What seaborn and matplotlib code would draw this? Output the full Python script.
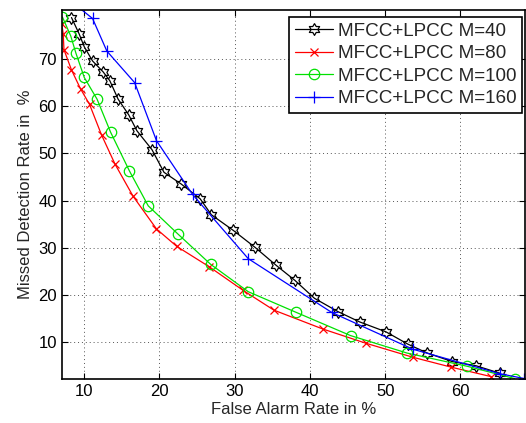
#!/usr/bin/env python3
# DET curves: MFCC+LPCC fusion with different mixture counts M

import numpy as np
import pandas as pd
import matplotlib
matplotlib.use('Agg')
import matplotlib.pyplot as plt
import seaborn as sns

################
# Data

fa_m40 = [8.3, 9.3, 10.0, 11.1, 12.5, 13.4, 14.5, 15.9, 17.0, 19.0, 20.6, 22.9, 25.4,
          26.9, 29.8, 32.7, 35.5, 38.0, 40.6, 43.7, 46.6, 50.1, 53.0, 55.6, 58.9, 62.1, 65.3]
md_m40 = [78.8, 75.4, 72.6, 69.6, 67.3, 65.4, 61.5, 58.2, 54.8, 50.8, 46.0, 43.5, 40.4,
          37.0, 33.7, 30.1, 26.3, 23.1, 19.3, 16.5, 14.3, 12.2, 9.6, 7.7, 5.9, 5.0, 3.4]

fa_m80 = [7.0, 7.2, 7.3, 8.3, 9.5, 10.7, 12.3, 14.1, 16.5, 19.6, 22.3, 26.6, 31.1,
          35.2, 41.7, 47.4, 53.7, 58.8, 64.1]
md_m80 = [77.5, 75.4, 72.0, 67.7, 63.7, 60.4, 53.9, 47.7, 40.9, 34.0, 30.3, 26.0, 21.0,
          16.8, 12.8, 9.8, 6.8, 4.7, 2.7]

fa_m100 = [7.1, 8.2, 8.9, 10.0, 11.7, 13.5, 16.0, 18.5, 22.4, 26.8, 31.8, 38.2, 45.4,
           52.9, 60.9, 67.2]
md_m100 = [78.9, 74.9, 71.2, 66.1, 61.5, 54.5, 46.3, 38.9, 33.0, 26.5, 20.7, 16.3, 11.4,
           7.7, 4.9, 2.3]

fa_m160 = [7.5, 11.1, 13.0, 16.7, 19.6, 24.4, 31.8, 42.9, 53.7, 65.3, 68.5]
md_m160 = [83.2, 78.6, 71.7, 65.0, 52.7, 41.3, 27.7, 16.3, 8.5, 3.3, 2.3]

labels = ['MFCC+LPCC M=40', 'MFCC+LPCC M=80', 'MFCC+LPCC M=100', 'MFCC+LPCC M=160']

################
# Style

sns.set_style('ticks')
plt.rcParams['font.family'] = ['Liberation Sans', 'DejaVu Sans']
plt.rcParams['font.size'] = 12

# six-pointed star (hexagram) marker
ang = np.pi / 2 + np.arange(12) * np.pi / 6
rad = np.where(np.arange(12) % 2 == 0, 1.0, 1.0 / np.sqrt(3))
hexagram = list(zip(rad * np.cos(ang), rad * np.sin(ang)))
hexagram.append(hexagram[0])

series = [
  (fa_m40, md_m40, 'black', hexagram, 8.5),
  (fa_m80, md_m80, 'red', 'x', 6),
  (fa_m100, md_m100, '#00e000', 'o', 7.5),
  (fa_m160, md_m160, 'blue', '+', 8.5),
]

fig = plt.figure(figsize=(5.26, 4.23), dpi=100)
ax = fig.add_axes([0.1173, 0.104, 0.881, 0.8735])

for (fa, md, col, mk, ms), lab in zip(series, labels):
  df = pd.DataFrame({'fa': fa, 'md': md})
  sns.lineplot(data=df, x='fa', y='md', ax=ax, color=col, marker=mk, markersize=ms,
               mfc='none', mec=col, mew=0.9, linewidth=0.9, sort=False,
               estimator=None, label=lab, clip_on=True)

ax.set_xlim(7, 68.6)
ax.set_ylim(2.2, 80.5)
ax.set_xticks([10, 20, 30, 40, 50, 60])
ax.set_yticks([10, 20, 30, 40, 50, 60, 70])
ax.grid(True, linestyle=(0, (1, 3)), color='#555555', linewidth=0.7)
ax.tick_params(direction='in', top=True, right=True, length=4, width=0.8, labelsize=12,
               colors='black')
for sp in ax.spines.values():
  sp.set_color('black')
  sp.set_linewidth(1.2)

ax.set_xlabel('False Alarm Rate in %', fontsize=12, labelpad=2)
ax.set_ylabel('Missed Detection Rate in  %', fontsize=12, labelpad=4)

leg = ax.legend(loc='upper right', bbox_to_anchor=(0.993, 0.98), borderaxespad=0,
                fancybox=False, framealpha=1, edgecolor='black', fontsize=13.6,
                handlelength=2.0, handletextpad=0.25, labelspacing=0.28,
                borderpad=0.3)
leg.get_frame().set_linewidth(1.2)

fig.savefig('out.png', dpi=100)
